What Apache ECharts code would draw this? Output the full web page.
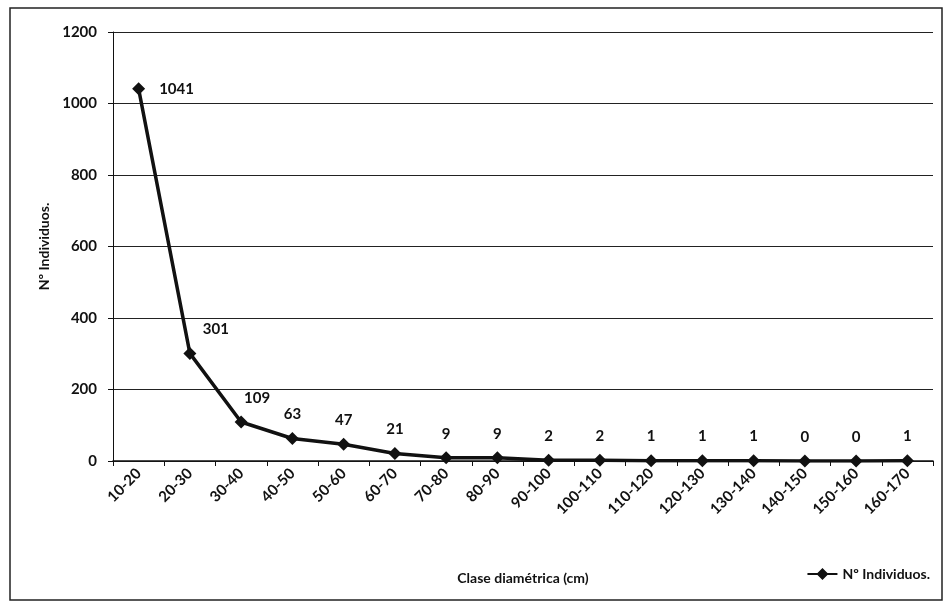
<!DOCTYPE html>
<html><head><meta charset="utf-8">
<script src="https://cdn.jsdelivr.net/npm/echarts@6/dist/echarts.min.js"></script>
<style>html,body{margin:0;padding:0;background:#fff}#c{width:945px;height:603px}</style>
</head><body><div id="c"></div>
<script>
const categories = ['10-20','20-30','30-40','40-50','50-60','60-70','70-80','80-90','90-100','100-110','110-120','120-130','130-140','140-150','150-160','160-170'];
const values = [1041,301,109,63,47,21,9,9,2,2,1,1,1,0,0,1];
const yTicks = [0,200,400,600,800,1000,1200];
const seriesName = 'Nº Individuos.';
const font = 'Lato, "Open Sans", sans-serif';

const data = values.map((v,i)=>{
  const d = {value:v};
  if(i===0) d.label = {position:'right', distance:14};
  else if(i===1) d.label = {offset:[26,0]};
  else if(i===2) d.label = {offset:[16,0]};
  return d;
});

const chart = echarts.init(document.getElementById('c'));
chart.setOption({
  backgroundColor:'#fff',
  animation:false,
  graphic:[{type:'rect', shape:{x:10,y:8,width:932,height:592}, style:{fill:'none',stroke:'#222',lineWidth:1.5}, silent:true}],
  grid:{left:113,right:12,top:32,bottom:142,containLabel:false},
  legend:{right:10,bottom:17,itemWidth:30,itemHeight:12,itemGap:3,
    textStyle:{fontFamily:font,fontWeight:'bold',fontSize:14,color:'#111'},
    data:[{name:seriesName,icon:'path://M0,5L30,5L30,7L0,7Z M15,0L21,6L15,12L9,6Z'}]},
  xAxis:{type:'category',data:categories,boundaryGap:true,
    name:'Clase diamétrica (cm)',nameLocation:'middle',nameGap:110,
    nameTextStyle:{fontFamily:font,fontWeight:'bold',fontSize:14,color:'#111'},
    axisLine:{lineStyle:{color:'#111',width:1.5}},
    axisTick:{show:true,alignWithLabel:false,length:5,lineStyle:{color:'#111'}},
    axisLabel:{rotate:45,interval:0,margin:10,fontFamily:font,fontWeight:'bold',fontSize:15,color:'#111'}},
  yAxis:{type:'value',min:0,max:1200,interval:200,
    name:'Nº Individuos.',nameLocation:'middle',nameGap:62,nameRotate:90,
    nameTextStyle:{fontFamily:font,fontWeight:'bold',fontSize:14,color:'#111'},
    axisLine:{show:true,lineStyle:{color:'#111',width:1}},
    axisTick:{show:true,length:5,lineStyle:{color:'#111'}},
    splitLine:{lineStyle:{color:'#222',width:1}},
    axisLabel:{margin:16,fontFamily:font,fontWeight:'bold',fontSize:15,color:'#111',
      formatter:v=>yTicks.includes(v)?String(v):''}},
  series:[{name:seriesName,type:'line',data:data,
    symbol:'diamond',symbolSize:13,
    lineStyle:{color:'#111',width:3.5},
    itemStyle:{color:'#111'},
    label:{show:true,position:'top',distance:10,fontFamily:font,fontWeight:'bold',fontSize:15,color:'#111'}}]
});
</script></body></html>
